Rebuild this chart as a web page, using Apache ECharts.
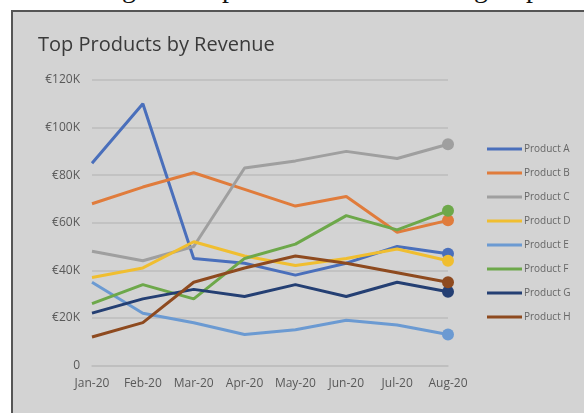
<!DOCTYPE html>
<html>
<head>
<meta charset="utf-8">
<script src="https://cdn.jsdelivr.net/npm/echarts@6/dist/echarts.min.js"></script>
<style>
  html, body { margin: 0; padding: 0; background: #fff; }
  #wrap { position: relative; width: 584px; height: 413px; overflow: hidden; }
  .frame {
    position: absolute; left: 11px; top: 10px; width: 600px; height: 420px;
    background: #d3d3d3; border-left: 2.5px solid #555; border-top: 2.5px solid #555;
  }
  .cut { position: absolute; top: -26px; font: 28px 'Liberation Serif', serif; line-height: 28px; color: #111; }
  #main { position: absolute; left: 0; top: 0; width: 584px; height: 413px; }
</style>
</head>
<body>
<div id="wrap">
  <span class="cut" style="left:122px">g</span>
  <span class="cut" style="left:222px">p</span>
  <span class="cut" style="left:474px">g</span>
  <span class="cut" style="left:526px">p</span>
  <div class="frame"></div>
  <div id="main"></div>
</div>
<script>
// months on the x axis
var months = ['Jan-20', 'Feb-20', 'Mar-20', 'Apr-20', 'May-20', 'Jun-20', 'Jul-20', 'Aug-20']

// revenue in thousands of euros
var productA = [85, 110, 45, 43, 38, 43, 50, 47]
var productB = [68, 75, 81, 74, 67, 71, 56, 61]
var productC = [48, 44, 50, 83, 86, 90, 87, 93]
var productD = [37, 41, 52, 46, 42, 45, 49, 44]
var productE = [35, 22, 18, 13, 15, 19, 17, 13]
var productF = [26, 34, 28, 45, 51, 63, 57, 65]
var productG = [22, 28, 32, 29, 34, 29, 35, 31]
var productH = [12, 18, 35, 41, 46, 43, 39, 35]

var names = ['Product A', 'Product B', 'Product C', 'Product D', 'Product E', 'Product F', 'Product G', 'Product H']
var values = [productA, productB, productC, productD, productE, productF, productG, productH]
var colors = ['#4a6fbb', '#e07c3c', '#9f9f9f', '#f0be30', '#6b9ad2', '#6da84a', '#243f73', '#8e4a1f']

var series = names.map(function (name, i) {
  return {
    name: name,
    type: 'line',
    data: values[i],
    color: colors[i],
    symbol: 'circle',
    // only the last point gets a dot
    symbolSize: function (v, p) { return p.dataIndex === months.length - 1 ? 12 : 0 },
    showAllSymbol: true,
    lineStyle: { width: 3 },
    itemStyle: { color: colors[i] },
    emphasis: { disabled: true },
    animation: false
  }
})

var myChart = echarts.init(document.getElementById('main'))
myChart.setOption({
  backgroundColor: 'transparent',
  textStyle: { fontFamily: 'Open Sans' },
  title: {
    text: 'Top Products by Revenue',
    left: 33,
    top: 30,
    textStyle: { fontSize: 20, fontWeight: 'normal', color: '#3a3a3a', fontFamily: 'Open Sans' }
  },
  legend: {
    orient: 'vertical',
    left: 482,
    top: 137,
    itemGap: 10,
    itemWidth: 35,
    itemHeight: 3,
    icon: 'rect',
    data: names,
    textStyle: { fontSize: 10, color: '#666', lineHeight: 14, padding: [0, 0, 0, -3] }
  },
  grid: {
    left: 92,
    right: 136,
    top: 80,
    bottom: 47.5
  },
  xAxis: {
    type: 'category',
    boundaryGap: false,
    data: months,
    axisLine: { lineStyle: { color: '#bdbdbd', width: 1.5 } },
    axisTick: { show: false },
    axisLabel: { color: '#595959', fontSize: 12, margin: 12, interval: 0 }
  },
  yAxis: {
    type: 'value',
    min: 0,
    max: 120,
    interval: 20,
    axisLine: { show: false },
    axisTick: { show: false },
    splitLine: { lineStyle: { color: '#bdbdbd', width: 1.5 } },
    axisLabel: {
      color: '#595959',
      fontSize: 12,
      margin: 12,
      formatter: function (v) { return v === 0 ? '0' : '€' + v + 'K' }
    }
  },
  series: series
})
</script>
</body>
</html>
